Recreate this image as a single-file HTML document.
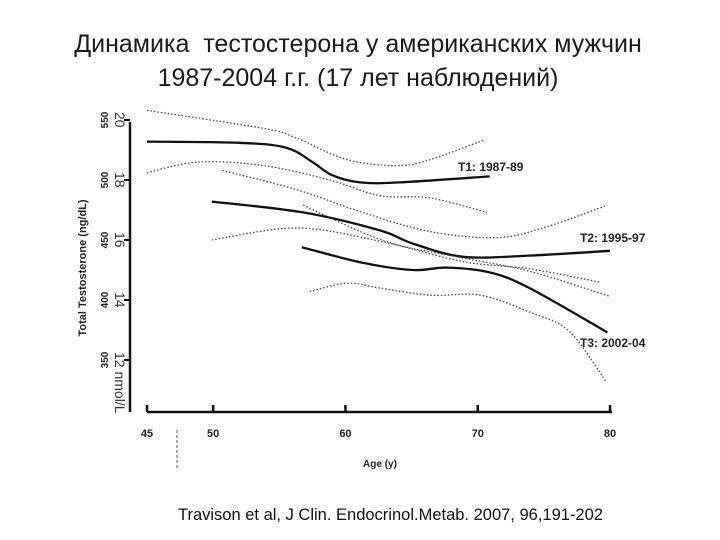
<!DOCTYPE html>
<html><head><meta charset="utf-8"><style>
html,body{margin:0;padding:0;background:#fff;}
body{width:720px;height:540px;overflow:hidden;position:relative;font-family:"Liberation Sans",sans-serif;}
.title{position:absolute;left:0;width:720px;text-align:center;font-size:25px;color:#1a1a1a;white-space:nowrap;}
</style></head><body>
<div class="title" style="top:30px;left:-2px;">Динамика&nbsp; тестостерона у американских мужчин</div>
<div class="title" style="top:64px;left:-2px;">1987-2004 г.г. (17 лет наблюдений)</div>
<div style="position:absolute;top:506px;left:178px;font-size:16.5px;color:#111;white-space:nowrap;">Travison et al, J Clin. Endocrinol.Metab. 2007, 96,191-202</div>
<svg id="chart" width="720" height="540" style="position:absolute;left:0;top:0;"></svg>
<script>
const xTicks=[45,50,60,70,80];
const yTicksNg=[550,500,450,400,350];
const yTicksNmol=["20","18","16","14","12 nmol/L"];
const t1MeanAge=[45,52,55.5,57.5,59,61.1,64.1,70.9];
const t1MeanVal=[532,531,527,515,504,498,498,503];
const t1UpAge=[45,53.8,56.3,60.1,63.9,66.4,70.4];
const t1UpVal=[558,543,535,517,512,517,533];
const t1LoAge=[45,48.9,53.8,58.8,62.6,66.4,70.7];
const t1LoVal=[506,515,512,500,487,485,473];
const t2MeanAge=[49.9,56.8,62.6,65.1,68.9,73.9,80];
const t2MeanVal=[482,473,458,447,436,437,441];
const t2UpAge=[50.7,56.3,61.3,66.4,71.5,75.2,79.8];
const t2UpVal=[508,492,473,457,452,461,479];
const t2LoAge=[49.9,56.3,62.6,68.9,73.9,79.2];
const t2LoVal=[450,460,449,432,426,415];
const t3MeanAge=[56.7,61.3,65.1,67.7,70.9,73.9,79.8];
const t3MeanVal=[444,431,425,427,423,410,373];
const t3UpAge=[56.8,63.0,68.9,73.9,80];
const t3UpVal=[479,449,435,424,403];
const t3LoAge=[57.3,60.1,62.6,66.4,70.2,73.9,76.9,79.7];
const t3LoVal=[407,414,410,404,404,390,374,332];
const seriesLabels=["T1: 1987-89","T2: 1995-97","T3: 2002-04"];

const svg=document.getElementById('chart');
const NS='http://www.w3.org/2000/svg';
const xs=a=>147+(a-45)*13.23;
const ys=v=>120+(550-v)*1.2;
function mk(tag,attrs){const e=document.createElementNS(NS,tag);for(const k in attrs)e.setAttribute(k,attrs[k]);svg.appendChild(e);return e;}
function path(ag,vl){let d='';const p=ag.map((a,i)=>[xs(a),ys(vl[i])]);
 d='M'+p[0][0]+','+p[0][1];
 for(let i=0;i<p.length-1;i++){const p0=p[Math.max(0,i-1)],p1=p[i],p2=p[i+1],p3=p[Math.min(p.length-1,i+2)];
  d+=' C'+(p1[0]+(p2[0]-p0[0])/6)+','+(p1[1]+(p2[1]-p0[1])/6)+' '+(p2[0]-(p3[0]-p1[0])/6)+','+(p2[1]-(p3[1]-p1[1])/6)+' '+p2[0]+','+p2[1];}
 return d;}
let e=mk('line',{x1:130,y1:122,x2:130,y2:412,stroke:'#111','stroke-width':2.5});

e=mk('line',{x1:147,y1:412,x2:612,y2:412,stroke:'#111','stroke-width':2.5});

xTicks.forEach(t=>{
 let l=mk('line',{x1:xs(t),y1:405,x2:xs(t),y2:412,stroke:'#111','stroke-width':2.5});
 
 let tx=mk('text',{x:xs(t),y:437,'text-anchor':'middle','font-size':11,'font-weight':'bold',fill:'#222'});tx.textContent=t;
 
});
yTicksNg.forEach((t,i)=>{
 const y=ys(t);
 let l=mk('line',{x1:124,y1:y,x2:130,y2:y,stroke:'#111','stroke-width':2});
 
 let tx=mk('text',{x:0,y:0,'text-anchor':'middle','font-size':10,'font-weight':'bold',fill:'#222',transform:'translate(108,'+y+') rotate(-90)'});tx.textContent=t;
 
 let tn=mk('text',{x:0,y:0,'text-anchor':'start','font-size':14,fill:'#333',transform:'translate(115,'+(y-8)+') rotate(90)'});tn.textContent=yTicksNmol[i];
 
});
e=mk('text',{x:0,y:0,'text-anchor':'middle','font-size':11,'font-weight':'bold',fill:'#222',transform:'translate(86,268) rotate(-90)'});e.textContent='Total Testosterone (ng/dL)';

e=mk('text',{x:380,y:467,'text-anchor':'middle','font-size':10,'font-weight':'bold',fill:'#222'});e.textContent='Age (y)';

const series=[
 [t1UpAge,t1UpVal,'dot','t1-upper-ci'],[t1LoAge,t1LoVal,'dot','t1-lower-ci'],[t1MeanAge,t1MeanVal,'solid','t1-mean-line'],
 [t2UpAge,t2UpVal,'dot','t2-upper-ci'],[t2LoAge,t2LoVal,'dot','t2-lower-ci'],[t2MeanAge,t2MeanVal,'solid','t2-mean-line'],
 [t3UpAge,t3UpVal,'dot','t3-upper-ci'],[t3LoAge,t3LoVal,'dot','t3-lower-ci'],[t3MeanAge,t3MeanVal,'solid','t3-mean-line']];
series.forEach(s=>{
 const p=mk('path',{d:path(s[0],s[1]),fill:'none',stroke:s[2]==='solid'?'#111':'#444','stroke-width':s[2]==='solid'?2.3:1.3,'stroke-dasharray':s[2]==='solid'?'none':'1.5 2'});
 
});
const lblPos=[[458,171],[580,242],[580,347]];
seriesLabels.forEach((t,i)=>{
 const tx=mk('text',{x:lblPos[i][0],y:lblPos[i][1],'font-size':12,'font-weight':'bold',fill:'#222'});tx.textContent=t;
 
});
e=mk('line',{x1:177,y1:430,x2:177,y2:470,stroke:'#555','stroke-width':1,'stroke-dasharray':'3 2'});

</script>
</body></html>
